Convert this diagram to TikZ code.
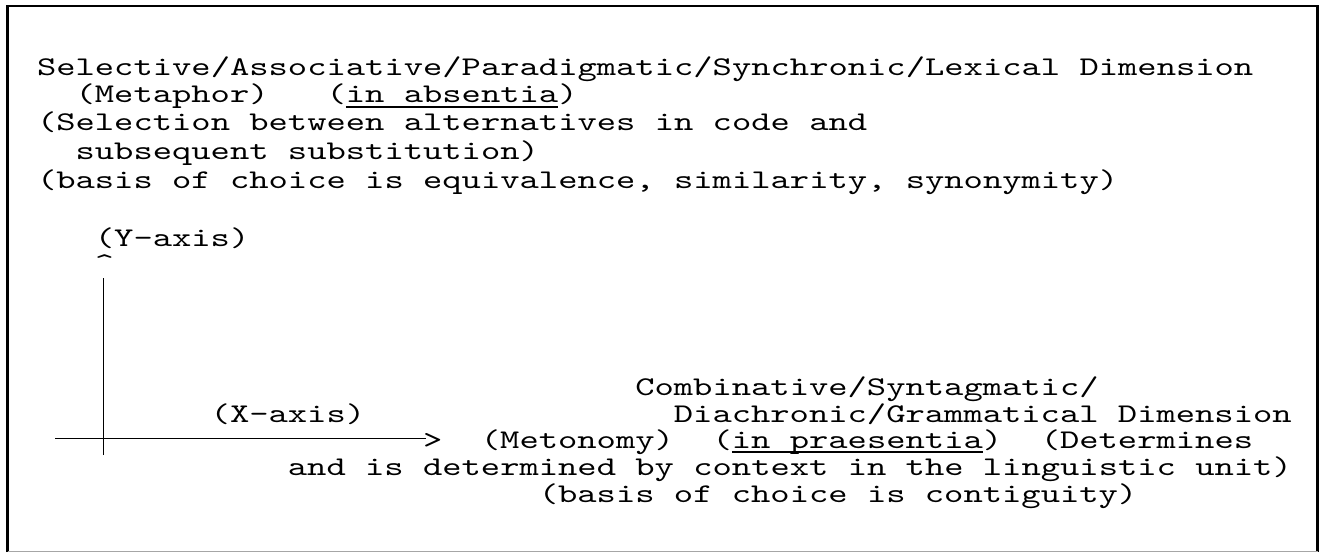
\documentclass[tikz,border=0pt]{standalone}
\usepackage{fontspec}
% typewriter face, widened to the cell pitch of the sheet
\newfontfamily\typewriter[FakeStretch=1.362]{lmmono10-regular.otf}
\newlength\cellw
\newsavebox\ulbox
% underline that runs just below the baseline, through any descenders
\newcommand\ulx[1]{\sbox\ulbox{#1}\rlap{\vrule height -2.6pt depth 4.6pt width \wd\ulbox}\usebox\ulbox}
\newcommand\typesetup{\typewriter\fontsize{27}{27}\selectfont\settowidth\cellw{x}\spaceskip=\cellw\relax}

\tikzset{
  txt/.style={anchor=base west, inner sep=0pt, outer sep=0pt, font=\typesetup},
  axisline/.style={line width=1.8pt, line cap=butt},
  frameline/.style={line width=2.2pt}
}

\begin{document}
\begin{tikzpicture}[x=1pt,y=-1pt]
\useasboundingbox (0,0) rectangle (1327,553);
\fill[white] (0,0) rectangle (1327,553);

% frame
\draw[frameline] (7.5,552) -- (7.5,6) -- (1317.5,6) -- (1317.5,552);
\draw[black!35, line width=1pt] (7.5,551.5) -- (1317.5,551.5);

% upper block: the selective dimension (columns at 37 + 19.3*col)
\node[txt] (t1) at (37,75.5) {Selective/Associative/Paradigmatic/Synchronic/Lexical Dimension};
\node[txt] (t2) at ({37+19.3*2},103) {(Metaphor)\ \ \ (\ulx{in absentia})};
\node[txt] (t3) at (37,131) {(Selection between alternatives in code and};
\node[txt] (t4) at ({37+19.3*2},160) {subsequent substitution)};
\node[txt] (t5) at (37,189) {(basis of choice is equivalence, similarity, synonymity)};

% axis labels and heads
\node[txt] (ylabel) at ({37+19.3*3},247) {(Y-axis)};
\node[txt] (ycaret) at ({37+19.3*3},272) {\textasciicircum};
\node[txt] (xlabel) at ({37+19.3*9},422) {(X-axis)};
\node[txt] (xhead) at ({37+19.3*20},448) {>};

% lower block: the combinative dimension
\node[txt] (b1) at ({37+19.3*31},395) {Combinative/Syntagmatic/};
\node[txt] (b2) at ({37+19.3*33},422) {Diachronic/Grammatical Dimension};
\node[txt] (b3) at ({37+19.3*23},448) {(Metonomy)\ \ (\ulx{in praesentia})\ \ (Determines};
\node[txt] (b4) at ({37+19.3*13},475) {and is determined by context in the linguistic unit)};
\node[txt] (b5) at ({37+19.3*26},502) {(basis of choice is contiguity)};

% axes
\coordinate (yfoot) at (103.5,455);
\coordinate (ytip) at ([yshift=-6pt]ycaret.south);
\coordinate (xfoot) at (55,438.5);
\draw[axisline] (yfoot) -- (yfoot |- ytip);
\draw[axisline] (xfoot) -- ([xshift=3pt]xhead.west |- xfoot);
\end{tikzpicture}
\end{document}
